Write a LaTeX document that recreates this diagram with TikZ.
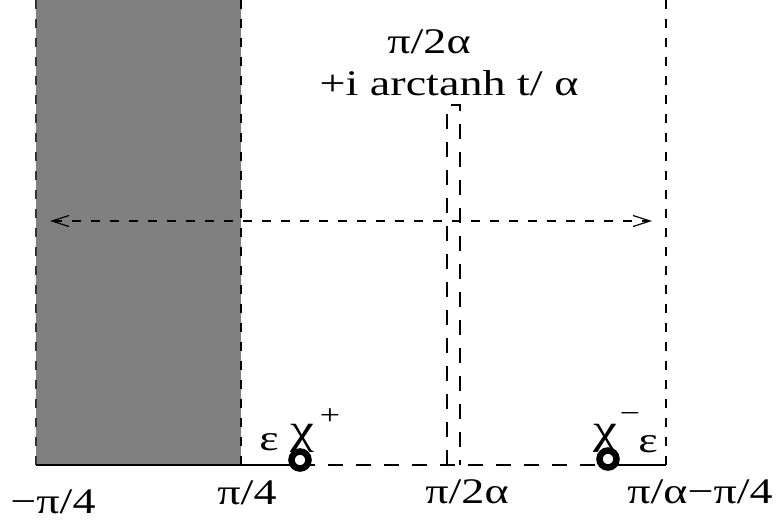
\documentclass[tikz,border=0pt]{standalone}
\usepackage{fontspec}
\setmainfont{Liberation Serif}[FakeStretch=1.28]
\usetikzlibrary{arrows.meta}
\tikzset{
  thindash/.style={line width=1.2pt, dash pattern=on 9pt off 10pt},
  thickdash/.style={line width=2.2pt, dash pattern=on 15pt off 13pt},
  solidline/.style={line width=2.8pt},
  lbl/.style={inner sep=0pt, font=\fontsize{36}{38}\selectfont, anchor=base},
  chilbl/.style={inner sep=0pt, font=\fontsize{42}{44}\selectfont, anchor=base},
  suplbl/.style={inner sep=0pt, font=\fontsize{28}{30}\selectfont, anchor=base},
  pole/.style={circle, draw, line width=6.5pt, minimum size=17pt, inner sep=0pt, fill=white},
}
\begin{document}
\begin{tikzpicture}[x=1pt,y=-1pt]
\useasboundingbox (0,0) rectangle (783,523);
% shaded strip
\fill[black!50] (36,0) rectangle (241,465);
\coordinate (gl0) at (36,0);
\coordinate (gl1) at (36,465);
\coordinate (gr0) at (241,0);
\coordinate (gr1) at (241,465);
\draw[thindash, black!80] (gl0) -- (gl1);
\draw[thindash] (gr0) -- (gr1);
% right boundary
\coordinate (r0) at (666,0);
\coordinate (r1) at (666,465);
\draw[thindash] (r0) -- (r1);
% slit
\coordinate (s1) at (447,465);
\coordinate (s2) at (447,105);
\coordinate (s3) at (460,105);
\coordinate (s4) at (460,465);
\draw[thickdash, line width=2pt] (s1) -- (s2) -- (s3) -- (s4);
% poles
\coordinate (pa) at (300,460);
\coordinate (pb) at (608,459);
% bottom line
\coordinate (b0) at (36,465);
\coordinate (b1) at (300,465);
\coordinate (b2) at (608,465);
\coordinate (b3) at (666,465);
\draw[solidline] (b0) -- (b1);
\draw[thickdash] (b1) -- (b2);
\draw[solidline] (b2) -- (b3);
% labels near the poles
\node[lbl] (e1) at (269,450) {ε};
\node[chilbl] (c1) at (302,443) {χ};
\node[suplbl] (c1s) at (330,424) {+};
\node[chilbl] (c2) at (605,443) {χ};
\node[suplbl] (c2s) at (630,422) {−};
\node[lbl] (e2) at (648,452) {ε};
\node[pole] (P1) at (pa) {};
\node[pole] (P2) at (pb) {};
% double arrow
\coordinate (aL) at (50,221);
\coordinate (aR) at (652,221);
\draw[thindash, {Straight Barb[length=17pt,width=11pt,line width=1.2pt]}-{Straight Barb[length=17pt,width=11pt,line width=1.2pt]}] (aL) -- (aR);
% labels
\node[lbl] (t1) at (429,53) {π/2α};
\node[lbl] (t2) at (449,95) {+i arctanh t/ α};
\node[lbl] (x1) at (53,513) {−π/4};
\node[lbl] (x2) at (247,504) {π/4};
\node[lbl] (x3) at (467,503) {π/2α};
\node[lbl] (x4) at (700,503) {π/α−π/4};
\end{tikzpicture}
\end{document}
